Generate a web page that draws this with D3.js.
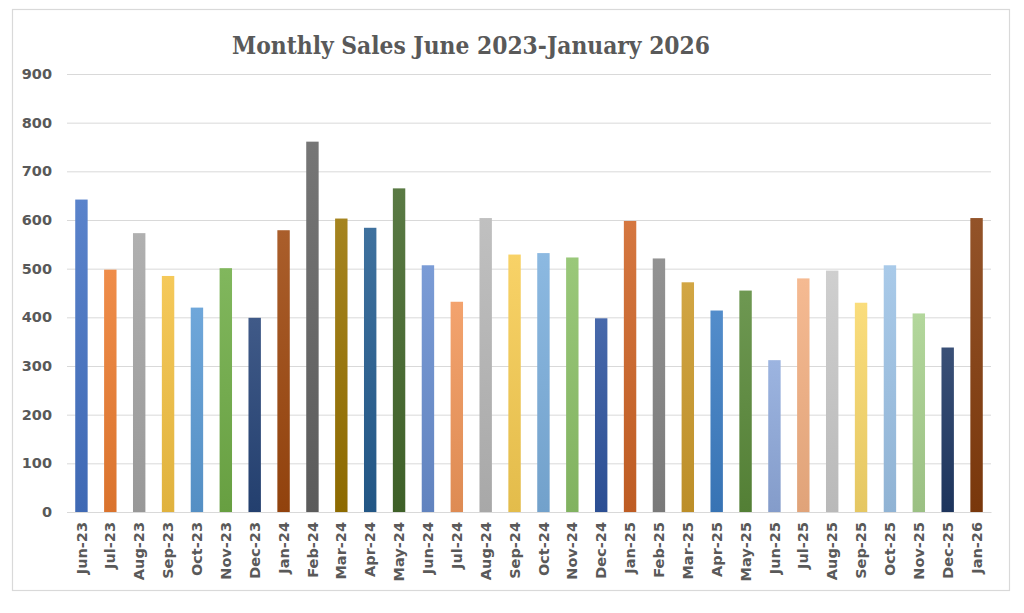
<!DOCTYPE html>
<html><head><meta charset="utf-8">
<script src="https://cdn.jsdelivr.net/npm/d3@7"></script>
<style>html,body{margin:0;padding:0;background:#fff;}</style>
</head><body>
<svg id="c" width="1024" height="613"></svg>
<script>
const months = ["Jun-23","Jul-23","Aug-23","Sep-23","Oct-23","Nov-23","Dec-23","Jan-24","Feb-24","Mar-24","Apr-24","May-24","Jun-24","Jul-24","Aug-24","Sep-24","Oct-24","Nov-24","Dec-24","Jan-25","Feb-25","Mar-25","Apr-25","May-25","Jun-25","Jul-25","Aug-25","Sep-25","Oct-25","Nov-25","Dec-25","Jan-26"];
const sales = [642,498,573,485,420,501,399,579,761,603,584,665,507,432,604,529,532,523,398,598,521,472,414,455,312,480,496,430,507,408,338,604];
const barColors = ["#4472C4","#ED7D31","#A5A5A5","#F4C243","#5B9BD5","#70AD47","#264478","#9E480E","#636363","#997300","#255E91","#43682B","#698ED0","#F1975A","#B7B7B7","#F7CC52","#7CAFDD","#8CC168","#2F55A0","#CF6426","#848484","#CC9A2B","#3C7DC4","#5A8A3A","#8FAADC","#F4B183","#C9C9C9","#F9D86A","#9DC3E6","#A9D18E","#1F3864","#843C0C"];
const yTicks = [0,100,200,300,400,500,600,700,800,900];
const titleText = "Monthly Sales June 2023-January 2026";

const svg = d3.select("#c");
const W = 1024, H = 613;
const m = {left:67, right:1024-991, top:74, bottom:613-512};

svg.append("rect").attr("x",12.5).attr("y",9.5).attr("width",997).attr("height",581)
  .attr("fill","#fff").attr("stroke","#d9d9d9").attr("stroke-width",1.2);

const x = d3.scaleBand().domain(months).range([m.left, W-m.right]).paddingInner(0.57).paddingOuter(0.285);
const y = d3.scaleLinear().domain([0,900]).range([H-m.bottom, m.top]);

const defs = svg.append("defs");
barColors.forEach((c,i)=>{
  const g = defs.append("linearGradient").attr("id","g"+i).attr("x1",0).attr("y1",0).attr("x2",0).attr("y2",1);
  g.append("stop").attr("offset","0%").attr("stop-color", d3.interpolateRgb(c,"#fff")(0.12));
  g.append("stop").attr("offset","100%").attr("stop-color", d3.interpolateRgb(c,"#000")(0.08));
});

// gridlines
const yAxisG = svg.append("g").attr("transform",`translate(${m.left},0)`)
  .call(d3.axisLeft(y).tickValues(yTicks).tickSize(-(W-m.left-m.right)).tickPadding(15));
yAxisG.select(".domain").remove();
yAxisG.selectAll(".tick line").attr("stroke","#d9d9d9").attr("stroke-width",1);
yAxisG.selectAll(".tick text").attr("fill","#595959").attr("font-family","DejaVu Sans, sans-serif")
  .attr("font-weight","bold").attr("font-size","14.5px");

// bars
svg.append("g").selectAll("rect").data(sales).join("rect")
  .attr("x",(d,i)=>x(months[i])).attr("width",x.bandwidth())
  .attr("y",d=>y(d)).attr("height",d=>y(0)-y(d))
  .attr("fill",(d,i)=>`url(#g${i})`);

// x axis
const xAxisG = svg.append("g").attr("transform",`translate(0,${y(0)})`)
  .call(d3.axisBottom(x).tickSize(0).tickPadding(0));
xAxisG.select(".domain").attr("stroke","#d9d9d9");
xAxisG.selectAll(".tick text")
  .attr("transform","rotate(-90)").attr("text-anchor","end")
  .attr("x",-10).attr("y",0).attr("dy","0.35em")
  .attr("fill","#595959").attr("font-family","DejaVu Sans, sans-serif")
  .attr("font-weight","bold").attr("font-size","14.5px");

// title
svg.append("text").attr("x",471).attr("y",54).attr("text-anchor","middle")
  .attr("font-family","DejaVu Serif, serif").attr("font-weight","bold").attr("font-size","24px")
  .attr("fill","#595959").attr("textLength",478).attr("lengthAdjust","spacingAndGlyphs")
  .text(titleText);
</script>
</body></html>
